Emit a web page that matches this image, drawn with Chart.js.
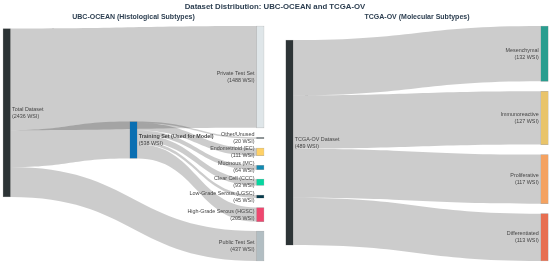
<!DOCTYPE html>
<html lang="en">
<head>
<meta charset="UTF-8">
<title>Dataset Distribution</title>
<style>
    body { margin: 0; background: #fff; }
    #wrap { position: relative; width: 550px; height: 263px; overflow: hidden; }
    #title {
        position: absolute; left: 0; top: 1px; width: 550px;
        text-align: center; font: bold 7.8px Arial, "Liberation Sans", sans-serif;
        line-height: 11px; color: #2c3e50; z-index: 2;
    }
    .panel { position: absolute; top: 0; height: 263px; }
</style>
<script src="https://cdn.jsdelivr.net/npm/chart.js"></script>
</head>
<body>
<div id="wrap">
    <div id="title">Dataset Distribution: UBC-OCEAN and TCGA-OV</div>
    <div class="panel" style="left:0;width:268px"><canvas id="ubc"></canvas></div>
    <div class="panel" style="left:280px;width:270px"><canvas id="tcga"></canvas></div>
</div>

<script>
    // ---- UBC-OCEAN data ----
    const ubcNames = ['Total Dataset', 'Training Set (Used for Model)', 'Private Test Set', 'Other/Unused',
        'Endometrioid (EC)', 'Mucinous (MC)', 'Clear Cell (CCC)', 'Low-Grade Serous (LGSC)',
        'High-Grade Serous (HGSC)', 'Public Test Set'];
    const ubcCounts = [2436, 538, 1488, 20, 111, 64, 93, 45, 205, 437];
    const ubcSource = [0, 0, 0, 1, 1, 1, 1, 1, 1];
    const ubcTarget = [2, 1, 9, 3, 4, 5, 6, 7, 8];
    const ubcValue = [1488, 538, 437, 20, 111, 64, 93, 45, 205];

    // ---- TCGA-OV data ----
    const tcgaNames = ['TCGA-OV Dataset', 'Mesenchymal', 'Immunoreactive', 'Proliferative', 'Differentiated'];
    const tcgaCounts = [489, 132, 127, 117, 113];
    const tcgaSource = [0, 0, 0, 0];
    const tcgaTarget = [1, 2, 3, 4];
    const tcgaValue = [132, 127, 117, 113];

    // styles
    const ubcColors = ['#2d3436', '#0a6fb2', '#dfe6e9', '#636e72', '#ffd166', '#118ab2', '#06d6a0', '#073b4c', '#ef476f', '#b2bec3'];
    const tcgaColors = ['#2d3436', '#2a9d8f', '#e9c46a', '#f4a261', '#e76f51'];
    const FONT = 'Arial, "Liberation Sans", sans-serif';
    const PLOT_H = 235;   // chart area height in px
    const NODE_W = 7.5;

    function layoutNodes(names, src, tgt, val, padPx, centers) {
        const n = names.length;
        const inSum = new Array(n).fill(0), outSum = new Array(n).fill(0);
        src.forEach((s, i) => { outSum[s] += val[i]; inSum[tgt[i]] += val[i]; });
        // depth: sources 0, then +1 along links; sinks pushed to last column
        const depth = new Array(n).fill(0);
        for (let k = 0; k < n; k++) src.forEach((s, i) => { depth[tgt[i]] = Math.max(depth[tgt[i]], depth[s] + 1); });
        const maxDepth = Math.max(...depth);
        const col = depth.map((d, i) => outSum[i] === 0 ? maxDepth : d);
        const value = names.map((_, i) => Math.max(inSum[i], outSum[i]));

        const cols = {};
        col.forEach((c, i) => (cols[c] = cols[c] || []).push(i));
        let ky = Infinity;
        Object.values(cols).forEach(list => {
            const tot = list.reduce((a, i) => a + value[i], 0);
            ky = Math.min(ky, (PLOT_H - (list.length - 1) * padPx) / tot);
        });
        const pad = padPx / ky;
        const yMax = PLOT_H / ky;
        const top = new Array(n).fill(0);
        Object.values(cols).forEach(list => {
            if (list.length === 1 && centers[list[0]] !== undefined) {
                top[list[0]] = centers[list[0]] * yMax - value[list[0]] / 2;
            } else {
                let y = 0;
                list.forEach(i => { top[i] = y; y += value[i] + pad; });
            }
        });
        return { x: col.map(c => c / maxDepth), top, value, yMax };
    }

    function makeSankey(canvasId, subtitle, names, counts, src, tgt, val, colors, padPx, centers, pad) {
        const L = layoutNodes(names, src, tgt, val, padPx, centers);

        const linkPlugin = {
            id: 'links',
            beforeDatasetsDraw(chart) {
                const { ctx } = chart;
                const xs = chart.scales.x, ys = chart.scales.y;
                const outOff = new Array(names.length).fill(0);
                const inOff = new Array(names.length).fill(0);
                // links leave/enter in order of the other end's position
                const order = val.map((_, i) => i);
                const y0 = {}, y1 = {};
                order.slice().sort((a, b) => L.top[tgt[a]] - L.top[tgt[b]])
                    .forEach(i => { y0[i] = L.top[src[i]] + outOff[src[i]]; outOff[src[i]] += val[i]; });
                order.slice().sort((a, b) => L.top[src[a]] - L.top[src[b]])
                    .forEach(i => { y1[i] = L.top[tgt[i]] + inOff[tgt[i]]; inOff[tgt[i]] += val[i]; });
                ctx.save();
                ctx.fillStyle = 'rgba(0,0,0,0.2)';
                order.forEach(i => {
                    const x0 = xs.getPixelForValue(L.x[src[i]]) + NODE_W / 2;
                    const x1 = xs.getPixelForValue(L.x[tgt[i]]) - NODE_W / 2;
                    const xm = (x0 + x1) / 2;
                    const a0 = ys.getPixelForValue(y0[i]), b0 = ys.getPixelForValue(y0[i] + val[i]);
                    const a1 = ys.getPixelForValue(y1[i]), b1 = ys.getPixelForValue(y1[i] + val[i]);
                    ctx.beginPath();
                    ctx.moveTo(x0, a0);
                    ctx.bezierCurveTo(xm, a0, xm, a1, x1, a1);
                    ctx.lineTo(x1, b1);
                    ctx.bezierCurveTo(xm, b1, xm, b0, x0, b0);
                    ctx.closePath();
                    ctx.fill();
                });
                ctx.restore();
            }
        };

        const labelPlugin = {
            id: 'nodeLabels',
            afterDatasetsDraw(chart) {
                const { ctx } = chart;
                const xs = chart.scales.x, ys = chart.scales.y;
                ctx.save();
                ctx.fillStyle = '#444';
                ctx.textBaseline = 'middle';
                names.forEach((name, i) => {
                    const cy = ys.getPixelForValue(L.top[i] + L.value[i] / 2);
                    const px = xs.getPixelForValue(L.x[i]);
                    const right = L.x[i] >= 1;
                    ctx.textAlign = right ? 'right' : 'left';
                    const tx = right ? px - NODE_W / 2 - 2 : px + NODE_W / 2 + 1.5;
                    const bold = name.startsWith('Training');
                    ctx.font = (bold ? 'bold ' : '') + '5.4px ' + FONT;
                    ctx.fillText(name, tx, cy - 3.5);
                    ctx.font = '5.4px ' + FONT;
                    ctx.fillText('(' + counts[i] + ' WSI)', tx, cy + 3.5);
                });
                ctx.restore();
            }
        };

        return new Chart(document.getElementById(canvasId), {
            type: 'bar',
            data: {
                datasets: [{
                    data: names.map((_, i) => ({ x: L.x[i], y: [L.top[i], L.top[i] + L.value[i]] })),
                    backgroundColor: colors,
                    borderColor: 'rgba(68,68,68,0.45)',
                    borderWidth: 0.5,
                    borderSkipped: false,
                    barThickness: NODE_W,
                    clip: false
                }]
            },
            options: {
                responsive: true,
                maintainAspectRatio: false,
                animation: false,
                layout: { padding: pad },
                plugins: {
                    legend: { display: false },
                    tooltip: { enabled: false },
                    title: {
                        display: true,
                        text: subtitle,
                        color: '#2c3e50',
                        font: { family: FONT, size: 7, weight: 'bold' },
                        padding: { top: 13, bottom: 4.6 }
                    }
                },
                scales: {
                    x: { type: 'linear', min: 0, max: 1, offset: false, display: false },
                    y: { type: 'linear', min: 0, max: L.yMax, reverse: true, display: false }
                }
            },
            plugins: [linkPlugin, labelPlugin]
        });
    }

    makeSankey('ubc', 'UBC-OCEAN (Histological Subtypes)', ubcNames, ubcCounts,
        ubcSource, ubcTarget, ubcValue, ubcColors, 9.5, { 0: 0.369, 1: 0.485 },
        { top: 0, bottom: 2, left: 6.75, right: 7.75 });
    makeSankey('tcga', 'TCGA-OV (Molecular Subtypes)', tcgaNames, tcgaCounts,
        tcgaSource, tcgaTarget, tcgaValue, tcgaColors, 10, { 0: 0.496 },
        { top: 0, bottom: 2, left: 9.5, right: 5.5 });
</script>
</body>
</html>
